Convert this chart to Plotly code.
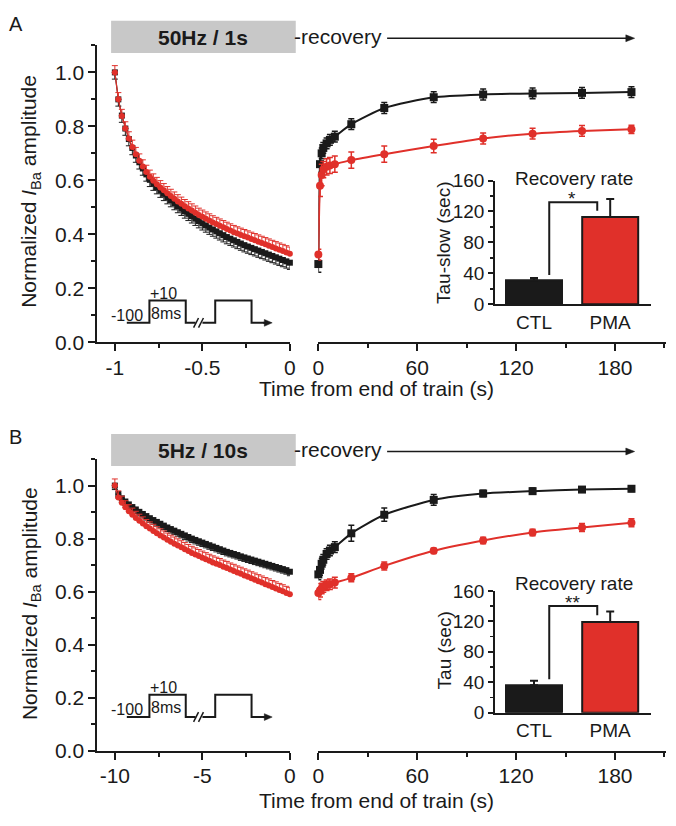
import plotly.graph_objects as go

W, H = 676, 826
FONT = "Arial, 'Liberation Sans', Helvetica, sans-serif"
BLACK = "#1a1a1a"
RED = "#e0302a"
GREY = "#c8c8c8"

# ---------------- data ----------------
# Panel A: 50 Hz / 1 s train (pulse times from protocol: every 20 ms)
train_A_t = [round(-1 + i * 0.02, 2) for i in range(51)]
train_A_ctl = [1.000, 0.900, 0.840, 0.792, 0.753, 0.720, 0.692, 0.667, 0.644, 0.622,
               0.602, 0.588, 0.575, 0.562, 0.550, 0.538, 0.527, 0.516, 0.505, 0.495,
               0.485, 0.476, 0.467, 0.458, 0.449, 0.441, 0.433, 0.425, 0.418, 0.411,
               0.404, 0.397, 0.390, 0.384, 0.378, 0.372, 0.366, 0.360, 0.355, 0.350,
               0.345, 0.340, 0.335, 0.330, 0.325, 0.320, 0.315, 0.310, 0.305, 0.300, 0.295]
train_A_pma = [1.000, 0.900, 0.838, 0.792, 0.755, 0.724, 0.697, 0.673, 0.651, 0.631,
               0.613, 0.599, 0.586, 0.574, 0.563, 0.552, 0.542, 0.532, 0.522, 0.513,
               0.504, 0.496, 0.488, 0.480, 0.472, 0.465, 0.458, 0.451, 0.444, 0.438,
               0.432, 0.426, 0.420, 0.414, 0.408, 0.403, 0.398, 0.393, 0.388, 0.383,
               0.378, 0.373, 0.368, 0.363, 0.358, 0.353, 0.348, 0.343, 0.338, 0.333, 0.328]
train_A_err_ctl = 0.025
train_A_err_pma = 0.025

# Panel B: 5 Hz / 10 s train (pulse times every 200 ms)
train_B_t = [round(-10 + i * 0.2, 1) for i in range(51)]
train_B_ctl = [1.000, 0.968, 0.952, 0.940, 0.929, 0.919, 0.910, 0.901, 0.893, 0.885,
               0.877, 0.870, 0.863, 0.856, 0.849, 0.842, 0.836, 0.830, 0.824, 0.818,
               0.812, 0.806, 0.800, 0.795, 0.790, 0.785, 0.780, 0.775, 0.770, 0.765,
               0.760, 0.755, 0.750, 0.746, 0.742, 0.738, 0.733, 0.729, 0.725, 0.721,
               0.717, 0.713, 0.709, 0.705, 0.701, 0.697, 0.693, 0.689, 0.685, 0.681, 0.675]
train_B_pma = [1.000, 0.955, 0.935, 0.918, 0.903, 0.890, 0.878, 0.867, 0.857, 0.847,
               0.838, 0.829, 0.820, 0.812, 0.804, 0.796, 0.788, 0.781, 0.774, 0.767,
               0.760, 0.753, 0.746, 0.740, 0.734, 0.728, 0.722, 0.716, 0.710, 0.705,
               0.700, 0.694, 0.689, 0.683, 0.678, 0.672, 0.667, 0.661, 0.656, 0.650,
               0.645, 0.639, 0.634, 0.628, 0.623, 0.617, 0.612, 0.606, 0.601, 0.595, 0.590]
train_B_err_ctl = 0.015
train_B_err_pma = 0.025

# Recovery
rec_t = [0, 1, 2, 3, 5, 7, 10, 20, 40, 70, 100, 130, 160, 190]
rec_A_ctl = [0.29, 0.66, 0.70, 0.72, 0.737, 0.75, 0.762, 0.808, 0.868, 0.908, 0.918, 0.922, 0.924, 0.927]
rec_A_pma = [0.325, 0.58, 0.62, 0.64, 0.65, 0.655, 0.66, 0.675, 0.697, 0.727, 0.755, 0.773, 0.783, 0.789]
rec_A_ctl_err = [0.03, 0.03, 0.02, 0.02, 0.02, 0.02, 0.02, 0.02, 0.02, 0.02, 0.02, 0.02, 0.02, 0.02]
rec_A_pma_err = [0.02, 0.04, 0.04, 0.03, 0.03, 0.03, 0.03, 0.03, 0.03, 0.025, 0.02, 0.02, 0.02, 0.015]
rec_B_ctl = [0.665, 0.682, 0.705, 0.72, 0.742, 0.755, 0.768, 0.82, 0.89, 0.946, 0.97, 0.979, 0.985, 0.988]
rec_B_pma = [0.595, 0.605, 0.612, 0.618, 0.624, 0.628, 0.634, 0.652, 0.697, 0.754, 0.793, 0.823, 0.842, 0.86]
rec_B_ctl_err = [0.02, 0.02, 0.02, 0.02, 0.02, 0.02, 0.02, 0.03, 0.025, 0.02, 0.012, 0.012, 0.01, 0.01]
rec_B_pma_err = [0.025, 0.025, 0.02, 0.02, 0.02, 0.02, 0.02, 0.015, 0.015, 0.01, 0.012, 0.012, 0.015, 0.015]

# Insets
groups = ["CTL", "PMA"]
tau_A = [31, 113]
tau_A_err = [3, 23]
tau_B = [36, 119]
tau_B_err = [6, 14]

main_y_ticks = [0, 0.2, 0.4, 0.6, 0.8, 1.0]
main_y_labels = ["0.0", "0.2", "0.4", "0.6", "0.8", "1.0"]
A_x_ticks = [-1, -0.5, 0]
A_x_labels = ["-1", "-0.5", "0"]
B_x_ticks = [-10, -5, 0]
B_x_labels = ["-10", "-5", "0"]
rec_x_ticks = [0, 60, 120, 180]
inset_y_ticks = [0, 40, 80, 120, 160]


def px(x):
    return x / W


def py(y):
    return 1 - y / H


fig = go.Figure()


def train_traces(t, ctl, pma, ectl, epma, xa, ya):
    fig.add_trace(go.Scatter(
        x=t, y=ctl, xaxis=xa, yaxis=ya, mode="lines+markers", cliponaxis=False,
        line=dict(color=BLACK, width=1.2),
        marker=dict(symbol="square", size=6, color=BLACK),
        error_y=dict(type="constant", symmetric=False, value=0, valueminus=ectl,
                     thickness=1, width=3, color=BLACK),
        showlegend=False, hoverinfo="skip"))
    fig.add_trace(go.Scatter(
        x=t, y=pma, xaxis=xa, yaxis=ya, mode="lines+markers", cliponaxis=False,
        line=dict(color=RED, width=1.2),
        marker=dict(symbol="circle", size=6, color=RED),
        error_y=dict(type="constant", symmetric=False, value=epma, valueminus=0,
                     thickness=1, width=3, color=RED),
        showlegend=False, hoverinfo="skip"))


def rec_traces(ctl, pma, ectl, epma, xa, ya):
    fig.add_trace(go.Scatter(
        x=rec_t, y=ctl, xaxis=xa, yaxis=ya, mode="lines+markers", cliponaxis=False,
        line=dict(color=BLACK, width=2, shape="spline", smoothing=0.6),
        marker=dict(symbol="square", size=8, color=BLACK),
        error_y=dict(type="data", array=ectl, thickness=1.5, width=3, color=BLACK),
        showlegend=False, hoverinfo="skip"))
    fig.add_trace(go.Scatter(
        x=rec_t, y=pma, xaxis=xa, yaxis=ya, mode="lines+markers", cliponaxis=False,
        line=dict(color=RED, width=2, shape="spline", smoothing=0.6),
        marker=dict(symbol="circle", size=8, color=RED),
        error_y=dict(type="data", array=epma, thickness=1.5, width=3, color=RED),
        showlegend=False, hoverinfo="skip"))


def bar_trace(vals, errs, xa, ya):
    fig.add_trace(go.Bar(
        x=groups, y=vals, xaxis=xa, yaxis=ya, width=0.735,
        marker=dict(color=[BLACK, RED], line=dict(color=BLACK, width=2)),
        error_y=dict(type="data", array=errs, arrayminus=[0, 0], symmetric=False,
                     thickness=2, width=4, color=BLACK),
        showlegend=False, hoverinfo="skip"))


train_traces(train_A_t, train_A_ctl, train_A_pma, train_A_err_ctl, train_A_err_pma, "x", "y")
rec_traces(rec_A_ctl, rec_A_pma, rec_A_ctl_err, rec_A_pma_err, "x2", "y2")
train_traces(train_B_t, train_B_ctl, train_B_pma, train_B_err_ctl, train_B_err_pma, "x3", "y3")
rec_traces(rec_B_ctl, rec_B_pma, rec_B_ctl_err, rec_B_pma_err, "x4", "y4")
bar_trace(tau_A, tau_A_err, "x5", "y5")
bar_trace(tau_B, tau_B_err, "x6", "y6")

base = dict(showline=True, linewidth=2, linecolor=BLACK, ticks="outside", tickwidth=2,
            tickcolor=BLACK, ticklen=7, showgrid=False, zeroline=False,
            tickfont=dict(size=21, color=BLACK, family=FONT))
base_x = dict(base, ticklabelstandoff=-2)


def minor_x(d):
    return dict(dtick=d, tick0=0, ticklen=4, tickwidth=2, tickcolor=BLACK, ticks="outside")


A_bot = 341
B_bot = 760
ydomA = [py(A_bot), py(A_bot - 1.1 * 277)]
ydomB = [py(B_bot), py(B_bot - 1.1 * 272)]

fig.update_layout(
    width=W, height=H, margin=dict(l=0, r=0, t=0, b=0),
    paper_bgcolor="white", plot_bgcolor="white",
    font=dict(family=FONT, color=BLACK), barmode="group",
    xaxis=dict(base_x, domain=[px(93), px(289)], range=[-1.1, 0], anchor="y",
               tickvals=A_x_ticks, ticktext=A_x_labels, minor=minor_x(0.25)),
    yaxis=dict(base, domain=ydomA, range=[0, 1.1], anchor="x",
               tickvals=main_y_ticks, ticktext=main_y_labels, minor=minor_x(0.1)),
    xaxis2=dict(base_x, domain=[px(318), px(672)], range=[0, 211], anchor="y2",
                tickvals=rec_x_ticks, minor=minor_x(30)),
    yaxis2=dict(domain=ydomA, range=[0, 1.1], anchor="x2", visible=False),
    xaxis3=dict(base_x, domain=[px(93), px(289)], range=[-11, 0], anchor="y3",
                tickvals=B_x_ticks, ticktext=B_x_labels, minor=minor_x(2.5)),
    yaxis3=dict(base, domain=ydomB, range=[0, 1.1], anchor="x3",
                tickvals=main_y_ticks, ticktext=main_y_labels, minor=minor_x(0.1)),
    xaxis4=dict(base_x, domain=[px(318), px(672)], range=[0, 211], anchor="y4",
                tickvals=rec_x_ticks, minor=minor_x(30)),
    yaxis4=dict(domain=ydomB, range=[0, 1.1], anchor="x4", visible=False),
)

inset_x = dict(showline=True, linewidth=2, linecolor=BLACK, ticks="", showgrid=False,
               zeroline=False, type="category", range=[-0.51, 1.54],
               tickfont=dict(size=19, color=BLACK, family=FONT))
inset_y = dict(showline=True, linewidth=2, linecolor=BLACK, ticks="outside", ticklen=5,
               tickwidth=2, tickcolor=BLACK, showgrid=False, zeroline=False, range=[0, 160],
               tickvals=inset_y_ticks, tickfont=dict(size=19, color=BLACK, family=FONT),
               minor=dict(dtick=20, tick0=0, ticklen=3, tickwidth=1.5, tickcolor=BLACK, ticks="outside"))
fig.update_layout(
    xaxis5=dict(inset_x, domain=[px(498), px(657)], anchor="y5"),
    yaxis5=dict(inset_y, domain=[py(302), py(175)], anchor="x5"),
    xaxis6=dict(inset_x, domain=[px(498), px(657)], anchor="y6"),
    yaxis6=dict(inset_y, domain=[py(721), py(596)], anchor="x6"),
)

shapes = []
ann = []


def text(x, y, s, size, bold=False, angle=0, xanchor="center", yanchor="middle", **kw):
    d = dict(x=px(x), y=py(y), xref="paper", yref="paper", text=("<b>%s</b>" % s) if bold else s,
             showarrow=False, textangle=angle, xanchor=xanchor, yanchor=yanchor,
             font=dict(size=size, color=BLACK, family=FONT))
    d.update(kw)
    ann.append(d)


def path(points, close=False):
    s = "M " + " L ".join("%.5f,%.5f" % (px(a), py(b)) for a, b in points)
    return s + (" Z" if close else "")


def arrow(x_head, x_tail, y, lw=1.5, hl=9, hw=3.5):
    shapes.append(dict(type="line", xref="paper", yref="paper", x0=px(x_tail), x1=px(x_head - hl + 1),
                       y0=py(y), y1=py(y), line=dict(color=BLACK, width=lw)))
    shapes.append(dict(type="path", xref="paper", yref="paper", fillcolor=BLACK,
                       line=dict(color=BLACK, width=0.5),
                       path=path([(x_head, y), (x_head - hl, y - hw), (x_head - hl, y + hw)], close=True)))


for dy, label, stim in [(0, "A", "50Hz / 1s"), (424, "B", "5Hz / 10s")]:
    text(10, 14 + dy, label, 20)
    shapes.append(dict(type="rect", xref="paper", yref="paper", x0=px(107), x1=px(295),
                       y0=py(11 + dy), y1=py(44 + dy), fillcolor=GREY, line=dict(width=0), layer="below"))
    text(201, 28 + dy, stim, 21, bold=True)
    text(291, 27 + dy, "-recovery", 21, xanchor="left")
    arrow(640, 388, 29 + dy)

# axis titles
for (yc, xt) in [(186, 388), (609, 811)]:
    text(25, yc, "Normalized <i>I</i><sub>Ba</sub> amplitude", 21, angle=-90)
    text(377, xt, "Time from end of train (s)", 21)

# stimulus protocol diagrams
for base_y in [321, 725.5]:
    hi = base_y - 23
    shapes.append(dict(type="path", xref="paper", yref="paper", line=dict(color=BLACK, width=2),
                       path=path([(123, base_y), (146, base_y), (146, hi), (183, hi), (183, base_y), (193, base_y)])))
    shapes.append(dict(type="path", xref="paper", yref="paper", line=dict(color=BLACK, width=2),
                       path=path([(200, base_y), (213, base_y), (213, hi), (250, hi), (250, base_y), (263, base_y)])))
    for sx in [191, 196]:
        shapes.append(dict(type="line", xref="paper", yref="paper", x0=px(sx), y0=py(base_y + 5),
                           x1=px(sx + 5), y1=py(base_y - 5), line=dict(color=BLACK, width=1.5)))
    arrow(271, 262, base_y, lw=2, hl=8, hw=3.5)
    text(123, base_y - 8, "-100", 16)
    text(160, base_y - 30, "+10", 16)
    text(163, base_y - 10, "8ms", 16)

# inset labels
for (xa, ya, top_y, title_y, ttl, brk, stars) in [
        ("x5", "y5", 173, 239, "Tau-slow (sec)", (38, 132, 121), "*"),
        ("x6", "y6", 588, 657, "Tau (sec)", (44, 140, 128), "**")]:
    text(578, top_y, "Recovery rate", 19)
    text(446, title_y, ttl, 19, angle=-90)
    shapes.append(dict(type="path", xref=xa, yref=ya, line=dict(color=BLACK, width=2),
                       path="M 0.2,%d L 0.2,%d L 0.83,%d L 0.83,%d" % (brk[0], brk[1], brk[1], brk[2])))
    ann.append(dict(x=0.5, y=brk[1], xref=xa, yref=ya, text=stars, showarrow=False,
                    yanchor="bottom", yshift=-9, font=dict(size=19, color=BLACK, family=FONT)))

fig.update_layout(shapes=shapes, annotations=ann)
fig.write_html("out.html", config={"displayModeBar": False, "staticPlot": True},
               post_script="document.body.style.margin='0';document.body.style.overflow='hidden';")
